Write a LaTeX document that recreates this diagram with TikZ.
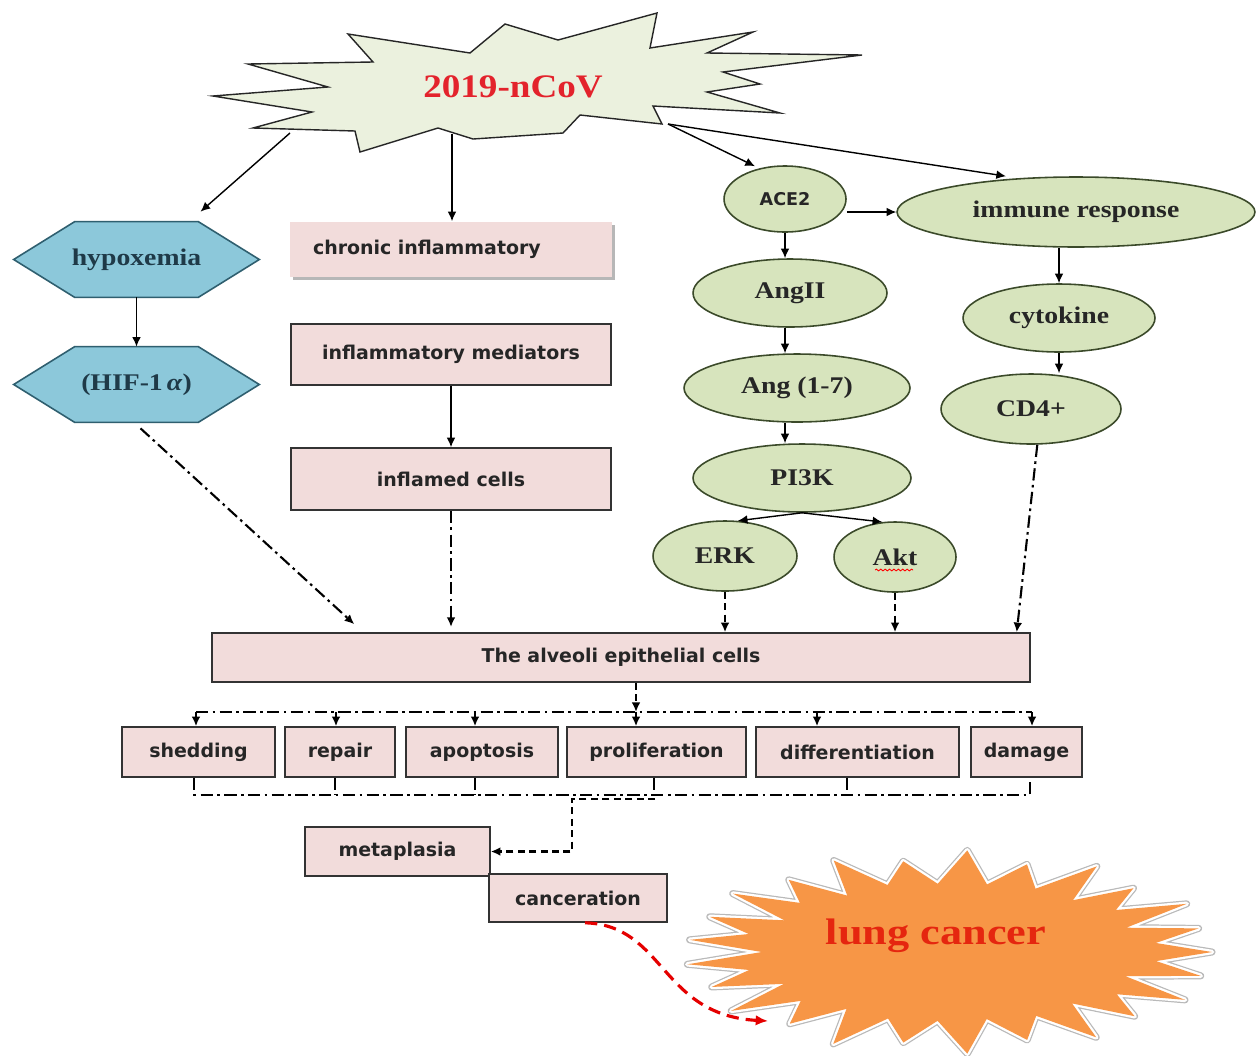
\documentclass[tikz,border=0pt]{standalone}
\usepackage{fontspec}
\usetikzlibrary{arrows.meta,shapes.geometric,shadows,decorations.pathmorphing}
\newfontfamily\boxff{DejaVu Sans}
\newfontfamily\serifff[FakeStretch=1.16]{Liberation Serif}
\newfontfamily\titleff[FakeStretch=1.13]{Liberation Serif}
\newfontfamily\lungff[FakeStretch=1.2]{Liberation Serif}
\newcommand\boxfont{\boxff\bfseries\fontsize{10.8}{13}\selectfont}
\newcommand\ellfont{\serifff\bfseries\fontsize{13.6}{15}\selectfont}
\definecolor{pinkc}{HTML}{F2DCDB}
\definecolor{greenc}{HTML}{D7E4BD}
\definecolor{ellb}{HTML}{3B4A2A}
\definecolor{ncovc}{HTML}{EBF1DE}
\definecolor{hexc}{HTML}{8CC8DA}
\definecolor{hexb}{HTML}{2F5F6F}
\definecolor{hext}{HTML}{1F3A48}
\definecolor{orangec}{HTML}{F79646}
\definecolor{redt}{HTML}{E3232C}
\definecolor{lungt}{HTML}{E5260F}
\pgfdeclarelayer{bg}
\pgfsetlayers{bg,main}
\tikzset{
  box/.style={draw=black!80, fill=pinkc, line width=0.9pt, inner sep=0pt, font=\boxfont, text=black!85},
  ell/.style={ellipse, draw=ellb, fill=greenc, line width=0.9pt, inner sep=0pt, font=\ellfont, text=black!85},
  hexn/.style={inner sep=0pt, font=\ellfont, text=hext, minimum width=4.9cm, minimum height=1.5cm},
  hexs/.style={draw=hexb, fill=hexc, line width=0.9pt},
  tip/.style={-{Latex[length=5.5pt,width=5pt]}},
  arr/.style={tip, line width=0.8pt},
  dd/.style={line width=1.2pt, dash pattern=on 7pt off 2.5pt on 1.5pt off 2.5pt},
  dda/.style={dd, tip},
  dsh/.style={line width=1.2pt, dash pattern=on 4pt off 2.5pt},
  dsha/.style={dsh, tip},
}
\newcommand\lungpath{plot[samples at={0,...,49}, variable=\k]
  ({950+(230+32*cos(\k*180))*(1+0.05*sin(\k*97))*cos(\k*7.2)},
   {952+(83+14*cos(\k*180))*(1+0.05*sin(\k*97))*sin(\k*7.2)}) -- cycle}
\begin{document}
\begin{tikzpicture}[x=0.02cm, y=-0.02cm]
\begin{pgfonlayer}{bg}
\fill[white] (0,0) rectangle (1256,1055);
\end{pgfonlayer}
\useasboundingbox (0,0) rectangle (1256,1055);

% 2019-nCoV starburst
\filldraw[fill=ncovc, draw=black!85, line width=0.8pt, line join=miter]
  (213,96) -- (312,112) -- (253,128) -- (355,131) -- (360,152) -- (438,128) -- (473,139)
  -- (563,133) -- (580,115) -- (662,124) -- (653,106) -- (780,113) -- (707,92) -- (760,84)
  -- (723,72) -- (862,55) -- (707,53) -- (753,32) -- (650,48) -- (657,13) -- (558,40)
  -- (505,24) -- (470,53) -- (348,34) -- (373,62) -- (248,64) -- (328,87) -- cycle;
\node[font=\titleff\bfseries\fontsize{18.7}{20}\selectfont, text=redt] (ncov) at (513,87) {2019-nCoV};
\coordinate (ncovA) at (290,133);
\coordinate (ncovB) at (452,134);
\coordinate (ncovC) at (668,124);

% hexagons
\node[hexn] (hyp) at (136.5,259.5) {hypoxemia};
\node[hexn] (hif) at (136.5,384.5) {(HIF-1\,\textit{α})};
\begin{pgfonlayer}{bg}
\foreach \h in {hyp,hif}{
  \filldraw[hexs] (\h.west) -- ([xshift=1.22cm]\h.north west) -- ([xshift=-1.22cm]\h.north east)
    -- (\h.east) -- ([xshift=-1.22cm]\h.south east) -- ([xshift=1.22cm]\h.south west) -- cycle;
}
\end{pgfonlayer}

% pink boxes
\node[box, draw=none, drop shadow={shadow xshift=0.06cm, shadow yshift=-0.06cm, fill=black!40, opacity=0.7},
  minimum width=6.44cm, minimum height=1.1cm, text width=5.52cm, inner xsep=0.46cm, align=left]
  (chronic) at (451,249.5) {chronic inflammatory};
\node[box, minimum width=6.4cm, minimum height=1.22cm] (mediators) at (451,354.5) {inflammatory mediators};
\node[box, minimum width=6.4cm, minimum height=1.24cm] (inflamed) at (451,479) {inflamed cells};
\node[box, minimum width=16.36cm, minimum height=0.98cm] (alveoli) at (621,657.5) {The alveoli epithelial cells};
\node[box, minimum width=3.06cm, minimum height=1.0cm] (shed) at (198.5,752) {shedding};
\node[box, minimum width=2.2cm, minimum height=1.0cm] (repair) at (340,752) {repair};
\node[box, minimum width=3.04cm, minimum height=1.0cm] (apop) at (482,752) {apoptosis};
\node[box, minimum width=3.58cm, minimum height=1.0cm] (prolif) at (656.5,752) {proliferation};
\node[box, minimum width=4.06cm, minimum height=1.0cm] (diff) at (857.5,752) {differentiation};
\node[box, minimum width=2.22cm, minimum height=1.0cm] (damage) at (1026.5,752) {damage};
\node[box, minimum width=3.7cm, minimum height=0.98cm] (meta) at (397.5,851.5) {metaplasia};
\node[box, minimum width=3.56cm, minimum height=0.96cm] (cancer) at (578,898) {canceration};

% ellipses
\node[ell, minimum width=2.44cm, minimum height=1.32cm, font=\boxff\bfseries\fontsize{10}{12}\selectfont] (ace2) at (785,199) {ACE2};
\node[ell, minimum width=7.16cm, minimum height=1.4cm] (immune) at (1076,212) {immune response};
\node[ell, minimum width=3.88cm, minimum height=1.36cm] (angii) at (790,293) {AngII};
\node[ell, minimum width=3.84cm, minimum height=1.36cm] (cyto) at (1059,318) {cytokine};
\node[ell, minimum width=4.52cm, minimum height=1.36cm] (ang17) at (797,388) {Ang (1-7)};
\node[ell, minimum width=3.6cm, minimum height=1.4cm] (cd4) at (1031,409) {CD4+};
\node[ell, minimum width=4.36cm, minimum height=1.36cm] (pi3k) at (802,478) {PI3K};
\node[ell, minimum width=2.88cm, minimum height=1.4cm] (erk) at (725,556) {ERK};
\node[ell, minimum width=2.44cm, minimum height=1.4cm] (akt) at (895,557) {Akt};
\draw[red, line width=0.5pt, decorate, decoration={snake, amplitude=0.5pt, segment length=2.5pt}]
  ([shift={(-20,13)}]akt.center) -- ([shift={(18,13)}]akt.center);

% lung cancer starburst
\draw[gray!55, line width=4pt, line join=round] \lungpath;
\draw[white, line width=2.6pt, line join=round] \lungpath;
\fill[orangec] \lungpath;
\node[font=\lungff\bfseries\fontsize{21}{23}\selectfont, text=lungt] (lung) at (936,936) {lung cancer};
\coordinate (lungtip) at (768,1021);

% solid connectors
\draw[arr] (ncovA) -- ([shift={(64,-10)}]hyp.north);
\draw[arr] (ncovB) -- (ncovB |- chronic.north);
\draw[arr] (ncovC) -- ([shift={(-30,1)}]ace2.north);
\draw[arr] (ncovC) -- ([shift={(-70,0)}]immune.north);
\draw[arr] (ace2.east |- immune.west) -- (immune.west);
\draw[arr] (ace2.south) -- (ace2.south |- angii.north);
\draw[arr] (ace2.south |- angii.south) -- (ace2.south |- ang17.north);
\draw[arr] (ace2.south |- ang17.south) -- (ace2.south |- pi3k.north);
\draw[arr] (pi3k.south) -- (erk.70);
\draw[arr] (pi3k.south) -- (akt.110);
\draw[arr] (cyto.north |- immune.south) -- (cyto.north);
\draw[arr] (cyto.south) -- (cyto.south |- cd4.north);
\draw[arr] (hyp.south) -- (hif.north);
\draw[arr] (mediators.south) -- (inflamed.north);

% dashed connectors to alveoli
\draw[dda] ([shift={(4,6)}]hif.south) -- ([shift={(143,-8)}]alveoli.north west);
\draw[dda, shorten >=3pt] (inflamed.south) -- (inflamed.south |- alveoli.north);
\draw[dsha] (erk.south) -- (erk.south |- alveoli.north);
\draw[dsha] (akt.south) -- (akt.south |- alveoli.north);
\draw[dda] (cd4.-80) -- ([shift={(-14,0)}]alveoli.north east);

% distribution to outcome boxes
\coordinate (split) at (636,712);
\draw[dsha] (split |- alveoli.south) -- (split);
\coordinate (d1) at (196,712);
\coordinate (d2) at (336,712);
\coordinate (d3) at (475,712);
\coordinate (d4) at (636,712);
\coordinate (d5) at (817,712);
\coordinate (d6) at (1032,712);
\draw[dd] (d1) -- (d6);
\draw[dda] (d1) -- (d1 |- shed.north);
\draw[dda] (d2) -- (d2 |- repair.north);
\draw[dda] (d3) -- (d3 |- apop.north);
\draw[dda] (d4) -- (d4 |- prolif.north);
\draw[dda] (d5) -- (d5 |- diff.north);
\draw[dda] (d6) -- (d6 |- damage.north);

% collection line
\coordinate (b1) at (194,795);
\coordinate (b2) at (335,795);
\coordinate (b3) at (475,795);
\coordinate (b4) at (654,795);
\coordinate (b5) at (847,795);
\coordinate (b6) at (1030,795);
\draw[dd] (b1 |- shed.south) -- (b1) -- (b6) -- (b6 |- damage.south);
\draw[dd] (b2 |- repair.south) -- (b2);
\draw[dd] (b3 |- apop.south) -- (b3);
\draw[dd] (b4 |- prolif.south) -- (b4);
\draw[dd] (b5 |- diff.south) -- (b5);
\coordinate (m1) at (655,799);
\coordinate (m2) at (572,799);
\draw[dsha] (m1) -- (m2) -- (m2 |- meta.east) -- (meta.east);

% canceration to lung cancer
\draw[red!90!black, line width=1.8pt, dash pattern=on 7pt off 4pt, -{Latex[length=7pt,width=6pt]}]
  ([xshift=4]cancer.south) .. controls (665,925) and (660,1015) .. (lungtip);
\end{tikzpicture}
\end{document}
